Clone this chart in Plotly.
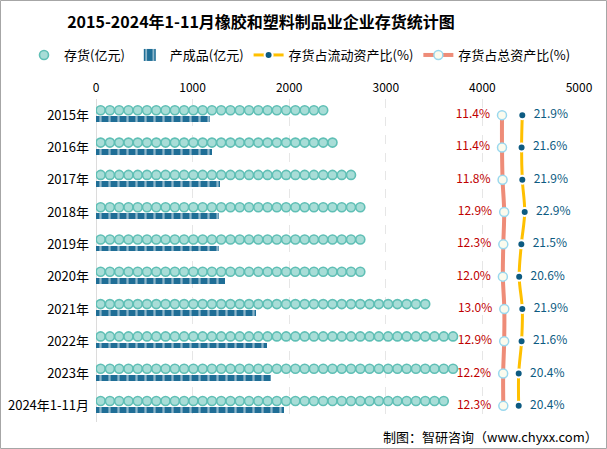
import numpy as np
import plotly.graph_objects as go

years = ["2015年", "2016年", "2017年", "2018年", "2019年", "2020年",
         "2021年", "2022年", "2023年", "2024年1-11月"]
inventory = [2415, 2545, 2775, 2860, 2785, 2860, 3460, 3750, 3750, 3740]
finished = [1185, 1205, 1280, 1270, 1270, 1340, 1655, 1775, 1810, 1945]
ratio_current = [21.9, 21.6, 21.9, 22.9, 21.5, 20.6, 21.9, 21.6, 20.4, 20.4]
ratio_total = [11.4, 11.4, 11.8, 12.9, 12.3, 12.0, 13.0, 12.9, 12.2, 12.3]
x_ticks = [0, 1000, 2000, 3000, 4000, 5000]

W, H = 607, 449
ML, MR, MT, MB = 96, 28, 99, 27
PW, PH = W - ML - MR, H - MT - MB

idx = np.arange(len(years))
FONT = "Noto Sans CJK SC"

# pictorial repeat for inventory (symbols repeat along the bar up to value)
step = 96.0
inv_x, inv_y = [], []
for i, v in enumerate(inventory):
    xs = np.arange(step / 2, v - step / 2 + 1e-6, step)
    inv_x.extend(xs.tolist())
    inv_y.extend([i - 0.15] * len(xs))

fig = go.Figure()

fig.add_trace(go.Scatter(
    x=inv_x, y=inv_y, mode="markers", name="存货(亿元)",
    marker=dict(symbol="circle", size=9, color="#a8ddd7",
                line=dict(color="#5fbfb5", width=1.6)),
    hoverinfo="skip"))

fig.add_trace(go.Bar(
    x=finished, y=idx + 0.13, orientation="h", width=0.18, name="产成品(亿元)",
    marker=dict(color="#1f6e96", line=dict(width=0),
                pattern=dict(shape="|", fgcolor="white", bgcolor="#1f6e96",
                             size=9, solidity=0.25)),
    hoverinfo="skip"))

fig.add_trace(go.Scatter(
    x=ratio_current, y=idx, xaxis="x3", mode="lines+markers+text",
    name="存货占流动资产比(%)",
    line=dict(color="#ffc000", width=3, shape="spline"),
    marker=dict(size=8, color="#0d5b82", line=dict(color="white", width=2)),
    text=[f"  {v:.1f}%" for v in ratio_current], textposition="middle right",
    textfont=dict(family=FONT, size=12, color="#0d5b82"),
    hoverinfo="skip"))

fig.add_trace(go.Scatter(
    x=ratio_total, y=idx, xaxis="x2", mode="lines+markers+text",
    name="存货占总资产比(%)",
    line=dict(color="#ee8c78", width=4, shape="spline"),
    marker=dict(size=9, color="#fbfbee", line=dict(color="#9ad8ee", width=1.5)),
    text=[f"{v:.1f}%  " for v in ratio_total], textposition="middle left",
    textfont=dict(family=FONT, size=12, color="#c00000"),
    hoverinfo="skip"))

# secondary ratio axes (hidden)
t_ppu = 1.45
t_lo = 11.4 - (502 - ML) / t_ppu
c_ppu = 2.4
c_lo = 20.4 - (518.7 - ML) / c_ppu

frame_x0 = (0.5 - ML) / PW
frame_x1 = (W - 0.5 - ML) / PW
frame_y0 = -(MB - 0.5) / PH
frame_y1 = 1 + (MT - 0.5) / PH

fig.update_layout(
    width=W, height=H,
    margin=dict(l=ML, r=MR, t=MT, b=MB, autoexpand=False),
    paper_bgcolor="white", plot_bgcolor="white",
    font=dict(family=FONT, size=12, color="#000"),
    showlegend=True,
    bargap=0,
    title=dict(text="<b>2015-2024年1-11月橡胶和塑料制品业企业存货统计图</b>",
               x=261 / W, xanchor="center", y=1 - 22 / H, yanchor="middle",
               font=dict(family=FONT, size=16, color="#000")),
    legend=dict(orientation="h", x=(24 - ML) / PW, xanchor="left",
                y=1 + (MT - 55) / PH, yanchor="middle",
                font=dict(family=FONT, size=13, color="#000"),
                itemwidth=30, tracegroupgap=0, bgcolor="rgba(0,0,0,0)"),
    xaxis=dict(side="top", range=[0, 5000], tickvals=x_ticks,
               ticktext=[str(v) for v in x_ticks], automargin=False,
               showgrid=True, gridcolor="#e6e6e6", griddash="dash", gridwidth=1,
               zeroline=False, showline=False, ticks="", ticklabelstandoff=4,
               tickfont=dict(family=FONT, size=12, color="#000")),
    xaxis2=dict(overlaying="x", range=[t_lo, t_lo + PW / t_ppu], visible=False),
    xaxis3=dict(overlaying="x", range=[c_lo, c_lo + PW / c_ppu], visible=False),
    yaxis=dict(range=[len(years) - 0.5, -0.5], tickvals=idx.tolist(), ticktext=years,
               showgrid=False, zeroline=False, showline=False, ticks="",
               ticklabelstandoff=6, automargin=False,
               tickfont=dict(family=FONT, size=13, color="#000")),
    shapes=[
        dict(type="line", xref="x", yref="paper", x0=0, x1=0, y0=0, y1=1,
             line=dict(color="#d0d0d0", width=1.5), layer="below"),
        dict(type="rect", xref="paper", yref="paper",
             x0=frame_x0, x1=frame_x1, y0=frame_y0, y1=frame_y1,
             line=dict(color="#a6a6a6", width=1)),
    ],
    annotations=[
        dict(text="制图：智研咨询（www.chyxx.com）", xref="paper", yref="paper",
             x=(600 - ML) / PW, xanchor="right", y=-(436 - MT - PH) / PH,
             yanchor="middle", showarrow=False,
             font=dict(family=FONT, size=13, color="#000")),
    ],
)

fig.write_html("out.html", config={"displayModeBar": False},
               post_script="document.body.style.margin='0px';document.body.style.overflow='hidden';")
